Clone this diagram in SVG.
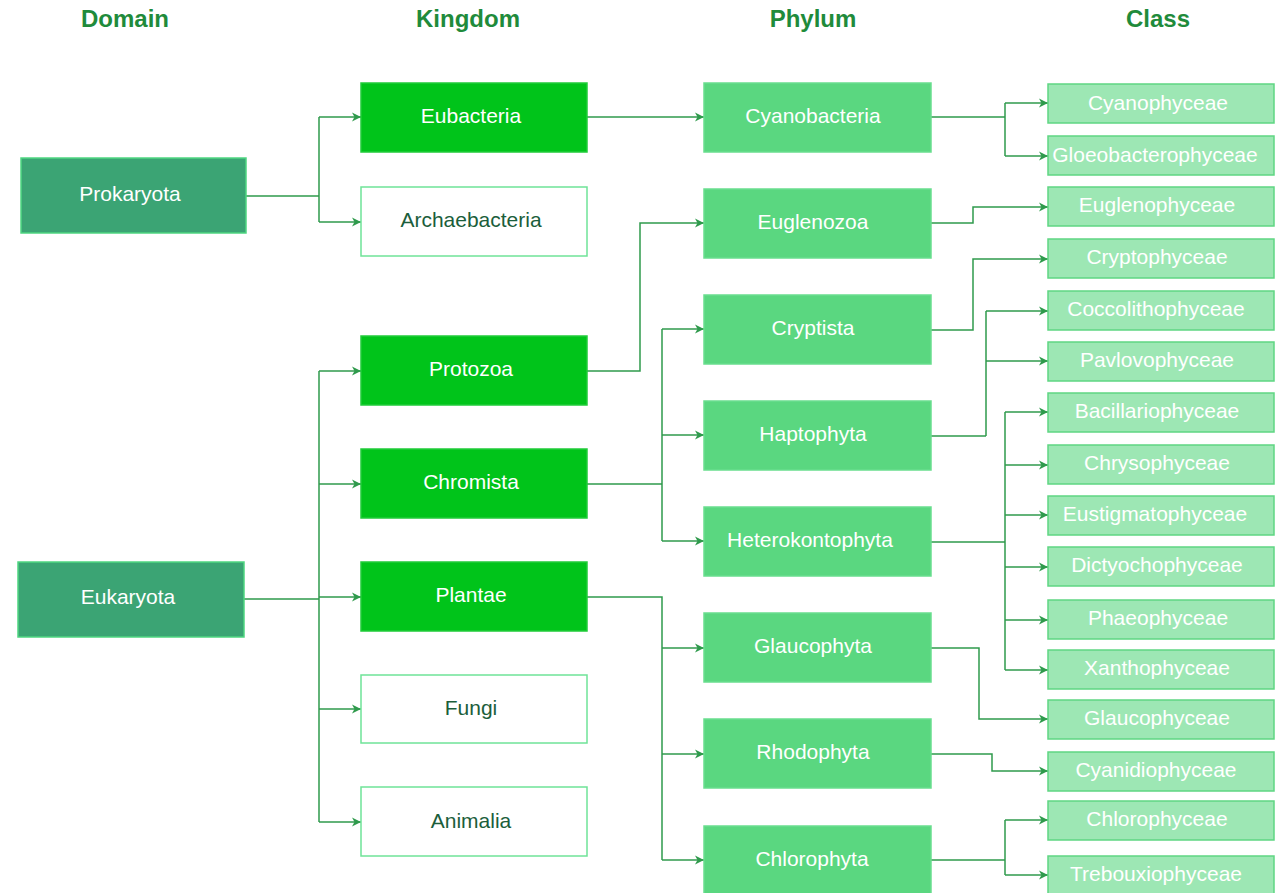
<svg xmlns="http://www.w3.org/2000/svg" width="1281" height="893" viewBox="0 0 1281 893">
<defs>
<marker id="arr" markerUnits="userSpaceOnUse" markerWidth="11" markerHeight="11" refX="10" refY="5.5" orient="auto">
<path d="M1,1 L10,5.5 L1,10 L3.5,5.5 z" fill="#2f9a4c"/>
</marker>
<style>
.hdr{font-family:"Liberation Sans",Arial,sans-serif;font-size:24px;font-weight:bold;fill:#1f8b3b;text-anchor:middle}
.t{font-family:"Liberation Sans",Arial,sans-serif;font-size:21px;text-anchor:middle;fill:#ffffff}
.td{font-family:"Liberation Sans",Arial,sans-serif;font-size:21px;text-anchor:middle;fill:#1b5e3b}
.dom{fill:#3ba474;stroke:#4fd681;stroke-width:1.5}
.kf{fill:#00c41a;stroke:#21cc3a;stroke-width:1.5}
.kw{fill:#ffffff;stroke:#6fe398;stroke-width:1.5}
.ph{fill:#5ad780;stroke:#69de8e;stroke-width:1.5}
.cl{fill:#9de7b4;stroke:#5fd683;stroke-width:1.5}
.c{fill:none;stroke:#2f9a4c;stroke-width:1.5}
.a{marker-end:url(#arr)}
</style>
</defs>
<rect width="1281" height="893" fill="#ffffff"/>
<g id="headers">
<text class="hdr" x="125" y="27">Domain</text>
<text class="hdr" x="468" y="27">Kingdom</text>
<text class="hdr" x="813" y="27">Phylum</text>
<text class="hdr" x="1158" y="27">Class</text>
</g>
<g id="connectors">
<path class="c" d="M246,196 H319 M319,117 V222"/>
<path class="c a" d="M319,117 H361"/>
<path class="c a" d="M319,222 H361"/>
<path class="c" d="M244,599 H319 M319,371 V822"/>
<path class="c a" d="M319,371 H361"/>
<path class="c a" d="M319,484 H361"/>
<path class="c a" d="M319,597 H361"/>
<path class="c a" d="M319,709 H361"/>
<path class="c a" d="M319,822 H361"/>
<path class="c a" d="M587,117 H704"/>
<path class="c a" d="M587,371 H640 V223 H704"/>
<path class="c" d="M587,484 H662 M662,329 V541"/>
<path class="c a" d="M662,329 H704"/>
<path class="c a" d="M662,435 H704"/>
<path class="c a" d="M662,541 H704"/>
<path class="c" d="M587,597 H662 V860"/>
<path class="c a" d="M662,648 H704"/>
<path class="c a" d="M662,754 H704"/>
<path class="c a" d="M662,860 H704"/>
<path class="c" d="M931,117 H1005 M1005,103 V156"/>
<path class="c a" d="M1005,103 H1048"/>
<path class="c a" d="M1005,156 H1048"/>
<path class="c a" d="M931,223 H973 V207 H1048"/>
<path class="c a" d="M931,330 H973 V259 H1048"/>
<path class="c" d="M931,436 H986 M986,311 V436"/>
<path class="c a" d="M986,311 H1048"/>
<path class="c a" d="M986,361 H1048"/>
<path class="c" d="M931,542 H1005 M1005,412 V670"/>
<path class="c a" d="M1005,412 H1048"/>
<path class="c a" d="M1005,465 H1048"/>
<path class="c a" d="M1005,515 H1048"/>
<path class="c a" d="M1005,567 H1048"/>
<path class="c a" d="M1005,620 H1048"/>
<path class="c a" d="M1005,670 H1048"/>
<path class="c a" d="M931,648 H979 V719 H1048"/>
<path class="c a" d="M931,754 H992 V771 H1048"/>
<path class="c" d="M931,860 H1005 M1005,820 V875"/>
<path class="c a" d="M1005,820 H1048"/>
<path class="c a" d="M1005,875 H1048"/>
</g>
<g id="prokaryota"><rect class="dom" x="21" y="158" width="225" height="75"/><text class="t" x="130" y="201">Prokaryota</text></g>
<g id="eukaryota"><rect class="dom" x="18" y="562" width="226" height="75"/><text class="t" x="128" y="604">Eukaryota</text></g>
<g id="eubacteria"><rect class="kf" x="361" y="83" width="226" height="69"/><text class="t" x="471" y="123">Eubacteria</text></g>
<g id="archaebacteria"><rect class="kw" x="361" y="187" width="226" height="69"/><text class="td" x="471" y="227">Archaebacteria</text></g>
<g id="protozoa"><rect class="kf" x="361" y="336" width="226" height="69"/><text class="t" x="471" y="376">Protozoa</text></g>
<g id="chromista"><rect class="kf" x="361" y="449" width="226" height="69"/><text class="t" x="471" y="489">Chromista</text></g>
<g id="plantae"><rect class="kf" x="361" y="562" width="226" height="69"/><text class="t" x="471" y="602">Plantae</text></g>
<g id="fungi"><rect class="kw" x="361" y="675" width="226" height="68"/><text class="td" x="471" y="715">Fungi</text></g>
<g id="animalia"><rect class="kw" x="361" y="787" width="226" height="69"/><text class="td" x="471" y="828">Animalia</text></g>
<g id="cyanobacteria"><rect class="ph" x="704" y="83" width="227" height="69"/><text class="t" x="813" y="123">Cyanobacteria</text></g>
<g id="euglenozoa"><rect class="ph" x="704" y="189" width="227" height="69"/><text class="t" x="813" y="229">Euglenozoa</text></g>
<g id="cryptista"><rect class="ph" x="704" y="295" width="227" height="69"/><text class="t" x="813" y="335">Cryptista</text></g>
<g id="haptophyta"><rect class="ph" x="704" y="401" width="227" height="69"/><text class="t" x="813" y="441">Haptophyta</text></g>
<g id="heterokontophyta"><rect class="ph" x="704" y="507" width="227" height="69"/><text class="t" x="810" y="547">Heterokontophyta</text></g>
<g id="glaucophyta"><rect class="ph" x="704" y="613" width="227" height="69"/><text class="t" x="813" y="653">Glaucophyta</text></g>
<g id="rhodophyta"><rect class="ph" x="704" y="719" width="227" height="69"/><text class="t" x="813" y="759">Rhodophyta</text></g>
<g id="chlorophyta"><rect class="ph" x="704" y="826" width="227" height="69"/><text class="t" x="812" y="866">Chlorophyta</text></g>
<g id="cyanophyceae"><rect class="cl" x="1048" y="84" width="226" height="39"/><text class="t" x="1158" y="110">Cyanophyceae</text></g>
<g id="gloeobacterophyceae"><rect class="cl" x="1048" y="136" width="226" height="39"/><text class="t" x="1155" y="162">Gloeobacterophyceae</text></g>
<g id="euglenophyceae"><rect class="cl" x="1048" y="187" width="226" height="39"/><text class="t" x="1157" y="212">Euglenophyceae</text></g>
<g id="cryptophyceae"><rect class="cl" x="1048" y="239" width="226" height="39"/><text class="t" x="1157" y="264">Cryptophyceae</text></g>
<g id="coccolithophyceae"><rect class="cl" x="1048" y="291" width="226" height="39"/><text class="t" x="1156" y="316">Coccolithophyceae</text></g>
<g id="pavlovophyceae"><rect class="cl" x="1048" y="342" width="226" height="39"/><text class="t" x="1157" y="367">Pavlovophyceae</text></g>
<g id="bacillariophyceae"><rect class="cl" x="1048" y="393" width="226" height="39"/><text class="t" x="1157" y="418">Bacillariophyceae</text></g>
<g id="chrysophyceae"><rect class="cl" x="1048" y="445" width="226" height="39"/><text class="t" x="1157" y="470">Chrysophyceae</text></g>
<g id="eustigmatophyceae"><rect class="cl" x="1048" y="496" width="226" height="39"/><text class="t" x="1155" y="521">Eustigmatophyceae</text></g>
<g id="dictyochophyceae"><rect class="cl" x="1048" y="547" width="226" height="39"/><text class="t" x="1157" y="572">Dictyochophyceae</text></g>
<g id="phaeophyceae"><rect class="cl" x="1048" y="600" width="226" height="39"/><text class="t" x="1158" y="625">Phaeophyceae</text></g>
<g id="xanthophyceae"><rect class="cl" x="1048" y="650" width="226" height="39"/><text class="t" x="1157" y="675">Xanthophyceae</text></g>
<g id="glaucophyceae"><rect class="cl" x="1048" y="700" width="226" height="39"/><text class="t" x="1157" y="725">Glaucophyceae</text></g>
<g id="cyanidiophyceae"><rect class="cl" x="1048" y="752" width="226" height="39"/><text class="t" x="1156" y="777">Cyanidiophyceae</text></g>
<g id="chlorophyceae"><rect class="cl" x="1048" y="801" width="226" height="39"/><text class="t" x="1157" y="826">Chlorophyceae</text></g>
<g id="trebouxiophyceae"><rect class="cl" x="1048" y="856" width="226" height="39"/><text class="t" x="1156" y="881">Trebouxiophyceae</text></g>
</svg>
